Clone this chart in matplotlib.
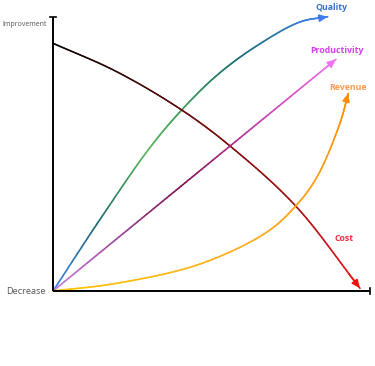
import numpy as np
import matplotlib
matplotlib.use("Agg")
import matplotlib.pyplot as plt
from matplotlib.collections import LineCollection
from matplotlib.colors import LinearSegmentedColormap

# ---- data (x: 0..100 progress, y: 0..100 change) ----
quality_x = [0, 15.87, 30.60, 40.60, 51.64, 63.72, 77.92, 86.66]
quality_y = [0, 27.92, 52.37, 66.06, 78.65, 89.05, 98.18, 100.1]

cost_x = [0, 20.09, 40.60, 55.84, 76.56, 96.85]
cost_y = [90.4, 80.04, 66.06, 52.92, 31.02, 0.99]

productivity_x = [0, 89.27]
productivity_y = [0, 84.56]

revenue_x = [0, 20.09, 46.37, 67.51, 76.56, 83.28, 90.54, 93.15]
revenue_y = [0, 2.81, 9.85, 21.53, 31.02, 41.61, 61.31, 72.15]

series_names = ["Quality", "Productivity", "Revenue", "Cost"]
axis_labels = ["Improvement", "Decrease"]

# ---- styling ----
fig = plt.figure(figsize=(3.75, 3.66), dpi=100)
ax = fig.add_axes([0, 0, 1, 1])
ax.set_xlim(-16.72, 101.58)
ax.set_ylim(-27.37, 106.2)
ax.axis("off")

SX, SY = 3.17, 2.74  # display scale of the data units


def smooth_path(xs, ys, sub=40):
    """Centripetal Catmull-Rom curve through the given points (drawing only)."""
    P = np.column_stack([np.asarray(xs, float) * SX, np.asarray(ys, float) * SY])
    if len(P) < 3:
        t = np.linspace(0, 1, sub * 4)
        Q = P[0] + (P[1] - P[0]) * t[:, None]
        return Q[:, 0] / SX, Q[:, 1] / SY
    ext = np.vstack([2 * P[0] - P[1], P, 2 * P[-1] - P[-2]])
    out = []
    for i in range(1, len(ext) - 2):
        p0, p1, p2, p3 = ext[i - 1], ext[i], ext[i + 1], ext[i + 2]
        a = 0.5
        t0 = 0.0
        t1 = t0 + np.linalg.norm(p1 - p0) ** a
        t2 = t1 + np.linalg.norm(p2 - p1) ** a
        t3 = t2 + np.linalg.norm(p3 - p2) ** a
        t = np.linspace(t1, t2, sub, endpoint=False)[:, None]
        A1 = (t1 - t) / (t1 - t0) * p0 + (t - t0) / (t1 - t0) * p1
        A2 = (t2 - t) / (t2 - t1) * p1 + (t - t1) / (t2 - t1) * p2
        A3 = (t3 - t) / (t3 - t2) * p2 + (t - t2) / (t3 - t2) * p3
        B1 = (t2 - t) / (t2 - t0) * A1 + (t - t0) / (t2 - t0) * A2
        B2 = (t3 - t) / (t3 - t1) * A2 + (t - t1) / (t3 - t1) * A3
        C = (t2 - t) / (t2 - t1) * B1 + (t - t1) / (t2 - t1) * B2
        out.append(C)
    out.append(P[-1][None, :])
    Q = np.vstack(out)
    return Q[:, 0] / SX, Q[:, 1] / SY


def gradient_line(xs, ys, stops, lw=1.15):
    px, py = smooth_path(xs, ys)
    d = np.sqrt(np.diff(px * SX) ** 2 + np.diff(py * SY) ** 2)
    s = np.concatenate([[0], np.cumsum(d)]); s /= s[-1]
    cmap = LinearSegmentedColormap.from_list("g", stops)
    pts = np.column_stack([px, py]).reshape(-1, 1, 2)
    segs = np.concatenate([pts[:-1], pts[1:]], axis=1)
    lc = LineCollection(segs, colors=cmap((s[:-1] + s[1:]) / 2), linewidths=lw,
                        capstyle="round", zorder=3)
    ax.add_collection(lc)
    ax.annotate("", xy=(px[-1], py[-1]), xytext=(px[-8], py[-8]),
                arrowprops=dict(arrowstyle="-|>,head_length=0.5,head_width=0.22",
                                color=cmap(1.0), lw=1.1, shrinkA=0, shrinkB=0),
                zorder=4)


gradient_line(quality_x, quality_y,
              [(0, "#4282f0"), (0.2, "#1a6a6a"), (0.42, "#5ab85a"),
               (0.58, "#3a9a5a"), (0.74, "#1a7070"), (1, "#3c7cf0")])
gradient_line(cost_x, cost_y,
              [(0, "#000000"), (0.4, "#6a0a0a"), (0.72, "#a01010"), (1, "#f01010")])
gradient_line(productivity_x, productivity_y,
              [(0, "#c080e0"), (0.45, "#801050"), (0.75, "#c840b0"), (1, "#f070f0")])
gradient_line(revenue_x, revenue_y,
              [(0, "#ffc400"), (0.6, "#ffa820"), (1, "#ff8c00")])

# axes with end caps
ax.plot([0, 100], [0, 0], color="black", lw=1.4, zorder=5, solid_capstyle="butt")
ax.plot([0, 0], [0, 100], color="black", lw=1.4, zorder=5, solid_capstyle="butt")
ax.plot([100, 100], [-1.2, 1.2], color="black", lw=1.2, zorder=5)
ax.plot([-1.0, 1.0], [100, 100], color="black", lw=1.2, zorder=5)

ax.text(-1.9, 97.4, axis_labels[0], ha="right", va="center", fontsize=5.0,
        color="#555555", family="Open Sans")
ax.text(-2.4, 0, axis_labels[1], ha="right", va="center", fontsize=6.6,
        color="#555555", family="Open Sans")

label_font = dict(fontweight="bold", family="Open Sans", ha="center", va="center")
ax.text(88.0, 103.3, series_names[0], color="#3a70c8", fontsize=6.3, **label_font)
ax.text(89.6, 87.6, series_names[1], color="#d63cf0", fontsize=6.3, **label_font)
ax.text(93.1, 74.1, series_names[2], color="#ff9a48", fontsize=6.3, **label_font)
ax.text(91.8, 19.3, series_names[3], color="#f03040", fontsize=6.3, **label_font)

fig.savefig("out.png", dpi=100, facecolor="white")
